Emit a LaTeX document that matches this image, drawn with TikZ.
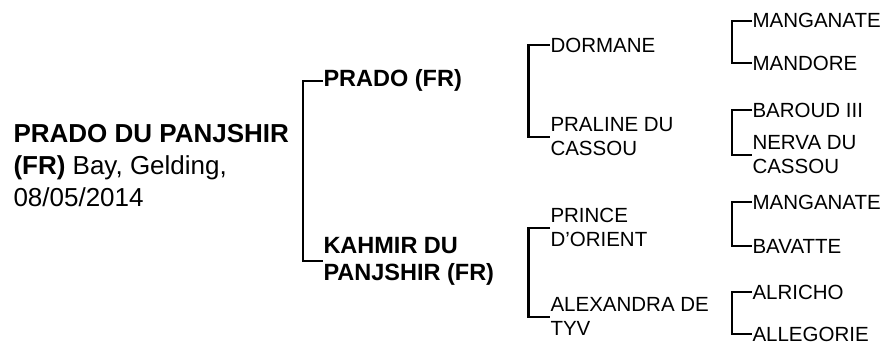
\documentclass[tikz,border=0pt]{standalone}
\usepackage{fontspec}
\setmainfont{Liberation Sans}
\usepackage{tikz}
\usetikzlibrary{positioning}
\tikzset{
  horse/.style={anchor=west,inner sep=0pt,outer sep=0.5pt,align=left},
  rootnm/.style={horse,font=\fontsize{26}{32}\selectfont},
  gena/.style={horse,font=\bfseries\fontsize{23.5}{27}\selectfont},
  genb/.style={horse,font=\fontsize{20.5}{24}\selectfont},
  brk/.style={line width=2.2pt,black},   % pedigree bracket
}
\begin{document}
\begin{tikzpicture}[x=1pt,y=-1pt]
  \useasboundingbox (0,0) rectangle (890,343);
  % the horse itself
  \node[rootnm] (root) at (13,166)
    {\textbf{PRADO DU PANJSHIR}\\\textbf{(FR)} Bay, Gelding,\\08/05/2014};
  % sire and dam
  \node[gena] (prado)  at (323,80.7) {PRADO (FR)};
  \node[gena] (kahmir) at (323,261)  {KAHMIR DU\\PANJSHIR (FR)};
  \draw[brk] (prado.west) -- ++(-20,0) |- (kahmir.west);
  % grandparents
  \node[genb] (dormane)   at (550,45)    {DORMANE};
  \node[genb] (praline)   at (550,136.7) {PRALINE DU\\CASSOU};
  \node[genb] (prince)    at (550,227.7) {PRINCE\\D’ORIENT};
  \node[genb] (alexandra) at (550,316.7) {ALEXANDRA DE\\TYV};
  \draw[brk] (dormane.west) -- ++(-21.5,0) |- (praline.west);
  \draw[brk] (prince.west) -- ++(-21.5,0) |- (alexandra.west);
  % great-grandparents
  \node[genb] (manga)     at (752,20.7)  {MANGANATE};
  \node[genb] (mandore)   at (752,63.3)  {MANDORE};
  \node[genb] (baroud)    at (752,110)   {BAROUD III};
  \node[genb] (nerva)     at (752,155)   {NERVA DU\\CASSOU};
  \node[genb] (mangb)     at (752,202.3) {MANGANATE};
  \node[genb] (bavatte)   at (752,246)   {BAVATTE};
  \node[genb] (alricho)   at (752,292.3) {ALRICHO};
  \node[genb] (allegorie) at (752,334.3) {ALLEGORIE};
  \draw[brk] (manga.west) -- ++(-20.3,0) |- (mandore.west);
  \draw[brk] (baroud.west) -- ++(-20.3,0) |- (nerva.west);
  \draw[brk] (mangb.west) -- ++(-20.3,0) |- (bavatte.west);
  \draw[brk] (alricho.west) -- ++(-20.3,0) |- (allegorie.west);
\end{tikzpicture}
\end{document}
